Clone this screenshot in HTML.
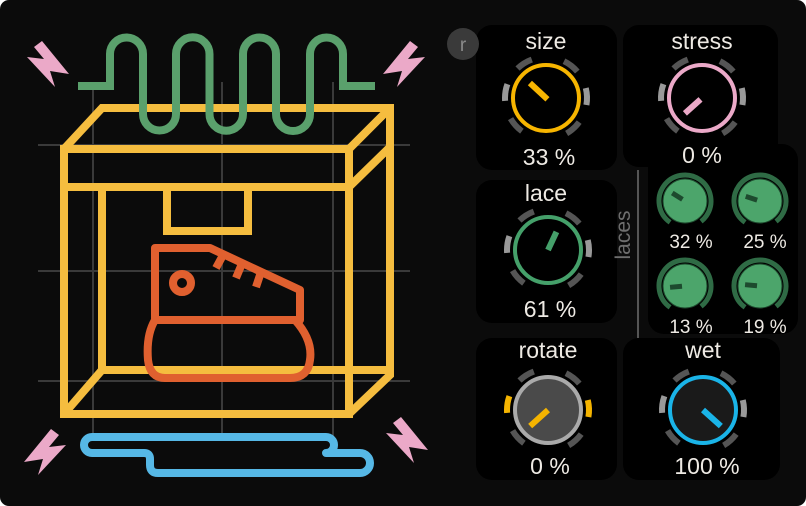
<!DOCTYPE html>
<html><head><meta charset="utf-8"><style>
html,body{margin:0;padding:0;background:#fff;}
#w{width:806px;height:506px;background:#0b0b0b;border-radius:9px;overflow:hidden;position:relative;}
svg{position:absolute;left:0;top:0;}
text{font-family:"Liberation Sans",sans-serif;}
</style></head><body><div id="w">
<svg width="806" height="506" viewBox="0 0 806 506">
<g stroke="#3a3a3a" stroke-width="2">
<line x1="93" y1="82" x2="93" y2="440"/><line x1="222" y1="82" x2="222" y2="440"/><line x1="333" y1="82" x2="333" y2="440"/>
<line x1="38" y1="145" x2="410" y2="145"/><line x1="38" y1="271" x2="410" y2="271"/><line x1="38" y1="381" x2="410" y2="381"/>
</g>
<g fill="none" stroke="#f5bd3f" stroke-width="8" stroke-linejoin="miter">
<polyline points="64,149 102,108 390,108 390,375 349,414"/>
<line x1="349" y1="149" x2="390" y2="108"/>
<line x1="349" y1="187" x2="390" y2="147"/>
<rect x="64" y="149" width="285" height="265"/>
<line x1="64" y1="187" x2="349" y2="187"/>
<polyline points="102,187 102,370 390,370"/>
<line x1="64" y1="414" x2="102" y2="370"/>
<rect x="167" y="187" width="81" height="44"/>
</g>
<path d="M78 86 H110 V54 A16.5 16.5 0 0 1 143 54 V114 A16.5 16.5 0 0 0 176 114 V54 A16.5 16.5 0 0 1 209.5 54 V114 A16.5 16.5 0 0 0 243 114 V54 A16.5 16.5 0 0 1 276 54 V114 A16.5 16.5 0 0 0 310 114 V54 A16.5 16.5 0 0 1 343 54 V86 H375" fill="none" stroke="#5aa06c" stroke-width="8"/>
<path d="M92 437 H326 A8 8 0 0 1 326 453 H360 A10 10 0 0 1 360 473 H158 Q150 473 150 465 V459 Q150 453 144 453 H92 A8 8 0 0 1 92 437 Z" fill="none" stroke="#56b8e6" stroke-width="8" stroke-linejoin="round"/>
<g fill="none" stroke="#e0602f" stroke-width="8" stroke-linejoin="round">
<polygon points="155,248 210,248 300,290 300,320 155,320"/>
<path d="M155 320 H295 Q313 340 310 360 Q308 378 290 378 H165 Q150 378 148 360 Q146 335 155 320 Z"/>
<circle cx="182" cy="283" r="9"/>
<line x1="222" y1="257" x2="216" y2="268"/><line x1="241" y1="266" x2="236" y2="278"/><line x1="260" y1="275" x2="256" y2="287"/>
</g>
<defs>
<polygon id="bolt" points="410,41 418,47 408,59 425,57 397,87 402,71 383,74" fill="#eba9c8"/>
</defs>
<use href="#bolt"/>
<use href="#bolt" transform="translate(452,0) scale(-1,1)"/>
<use href="#bolt" transform="translate(-359,388)"/>
<use href="#bolt" transform="translate(811,376) scale(-1,1)"/>
<g fill="#000">
<rect x="476" y="25" width="141" height="145" rx="16"/>
<rect x="623" y="25" width="155" height="142" rx="16"/>
<rect x="648" y="144" width="150" height="190" rx="16"/>
<rect x="476" y="180" width="141" height="143" rx="16"/>
<rect x="476" y="338" width="141" height="142" rx="16"/>
<rect x="623" y="338" width="157" height="142" rx="16"/>
</g>
<line x1="638" y1="170" x2="638" y2="338" stroke="#555" stroke-width="2"/>
<text x="630" y="235" transform="rotate(-90 630 235)" font-size="21" fill="#6e6e6e" text-anchor="middle">laces</text>
<circle cx="463" cy="44" r="16" fill="#3a3a3a"/>
<text x="463" y="51" font-size="19" fill="#8a8a8a" text-anchor="middle">r</text>

<defs>
<g id="seg">
<circle r="41" fill="none" stroke="#555" stroke-width="6" stroke-dasharray="17 241" transform="rotate(126)"/>
<circle r="41" fill="none" stroke="#999" stroke-width="6" stroke-dasharray="17 241" transform="rotate(176)"/>
<circle r="41" fill="none" stroke="#555" stroke-width="6" stroke-dasharray="17 241" transform="rotate(226)"/>
<circle r="41" fill="none" stroke="#555" stroke-width="6" stroke-dasharray="17 241" transform="rotate(296)"/>
<circle r="41" fill="none" stroke="#999" stroke-width="6" stroke-dasharray="17 241" transform="rotate(346)"/>
<circle r="41" fill="none" stroke="#555" stroke-width="6" stroke-dasharray="17 241" transform="rotate(36)"/>
</g>
<g id="seg2">
<circle r="41" fill="none" stroke="#555" stroke-width="6" stroke-dasharray="17 241" transform="rotate(126)"/>
<circle r="41" fill="none" stroke="#f5b400" stroke-width="6" stroke-dasharray="17 241" transform="rotate(176)"/>
<circle r="41" fill="none" stroke="#555" stroke-width="6" stroke-dasharray="17 241" transform="rotate(226)"/>
<circle r="41" fill="none" stroke="#555" stroke-width="6" stroke-dasharray="17 241" transform="rotate(296)"/>
<circle r="41" fill="none" stroke="#f5b400" stroke-width="6" stroke-dasharray="17 241" transform="rotate(346)"/>
<circle r="41" fill="none" stroke="#555" stroke-width="6" stroke-dasharray="17 241" transform="rotate(36)"/>
</g>
<g id="sk">
<circle r="26" fill="none" stroke="#2f6b45" stroke-width="5" stroke-dasharray="130 33.4" transform="rotate(125)"/>
<circle r="22" fill="#4ca56b" stroke="#1e4a2e" stroke-width="1"/>
</g>
</defs>

<g transform="translate(546,98)">
<use href="#seg"/><circle r="33" fill="#000" stroke="#f7b500" stroke-width="4"/>
<line x1="0" y1="2" x2="0" y2="-22" stroke="#f7b500" stroke-width="6" transform="rotate(-47)"/>
</g>
<g transform="translate(702,98)">
<use href="#seg"/><circle r="33" fill="#000" stroke="#eba9c8" stroke-width="4"/>
<line x1="0" y1="-2" x2="0" y2="-23" stroke="#eba9c8" stroke-width="6" transform="rotate(-132)"/>
</g>
<g transform="translate(548,250)">
<use href="#seg"/><circle r="33" fill="#000" stroke="#45a06a" stroke-width="4"/>
<line x1="0" y1="0" x2="0" y2="-20" stroke="#45a06a" stroke-width="6" transform="rotate(25)"/>
</g>
<g transform="translate(548,410)">
<use href="#seg2"/><circle r="33" fill="#4a4a4a" stroke="#aaa" stroke-width="4"/>
<line x1="0" y1="0" x2="0" y2="-24" stroke="#f5b400" stroke-width="6" transform="rotate(-132)"/>
</g>
<g transform="translate(703,410)">
<use href="#seg"/><circle r="33" fill="#1a1a1a" stroke="#1ab4e8" stroke-width="4"/>
<line x1="0" y1="0" x2="0" y2="-24" stroke="#1ab4e8" stroke-width="6" transform="rotate(132)"/>
</g>
<g transform="translate(685,201)"><use href="#sk"/><line x1="0" y1="-3" x2="0" y2="-15" stroke="#1d4a2e" stroke-width="5" transform="rotate(-58)"/></g>
<g transform="translate(760,201)"><use href="#sk"/><line x1="0" y1="-3" x2="0" y2="-15" stroke="#1d4a2e" stroke-width="5" transform="rotate(-72)"/></g>
<g transform="translate(685,286)"><use href="#sk"/><line x1="0" y1="-3" x2="0" y2="-15" stroke="#1d4a2e" stroke-width="5" transform="rotate(-95)"/></g>
<g transform="translate(760,286)"><use href="#sk"/><line x1="0" y1="-3" x2="0" y2="-15" stroke="#1d4a2e" stroke-width="5" transform="rotate(-85)"/></g>

<g fill="#eeeae4" text-anchor="middle" font-size="23">
<text x="546" y="49">size</text>
<text x="702" y="49">stress</text>
<text x="546" y="201">lace</text>
<text x="548" y="358">rotate</text>
<text x="703" y="358">wet</text>
<text x="549" y="165">33 %</text>
<text x="702" y="163">0 %</text>
<text x="550" y="317">61 %</text>
<text x="550" y="474">0 %</text>
<text x="707" y="474">100 %</text>
</g>
<g fill="#eeeae4" text-anchor="middle" font-size="19">
<text x="691" y="248">32 %</text>
<text x="765" y="248">25 %</text>
<text x="691" y="333">13 %</text>
<text x="765" y="333">19 %</text>
</g>
</svg>
</div></body></html>
